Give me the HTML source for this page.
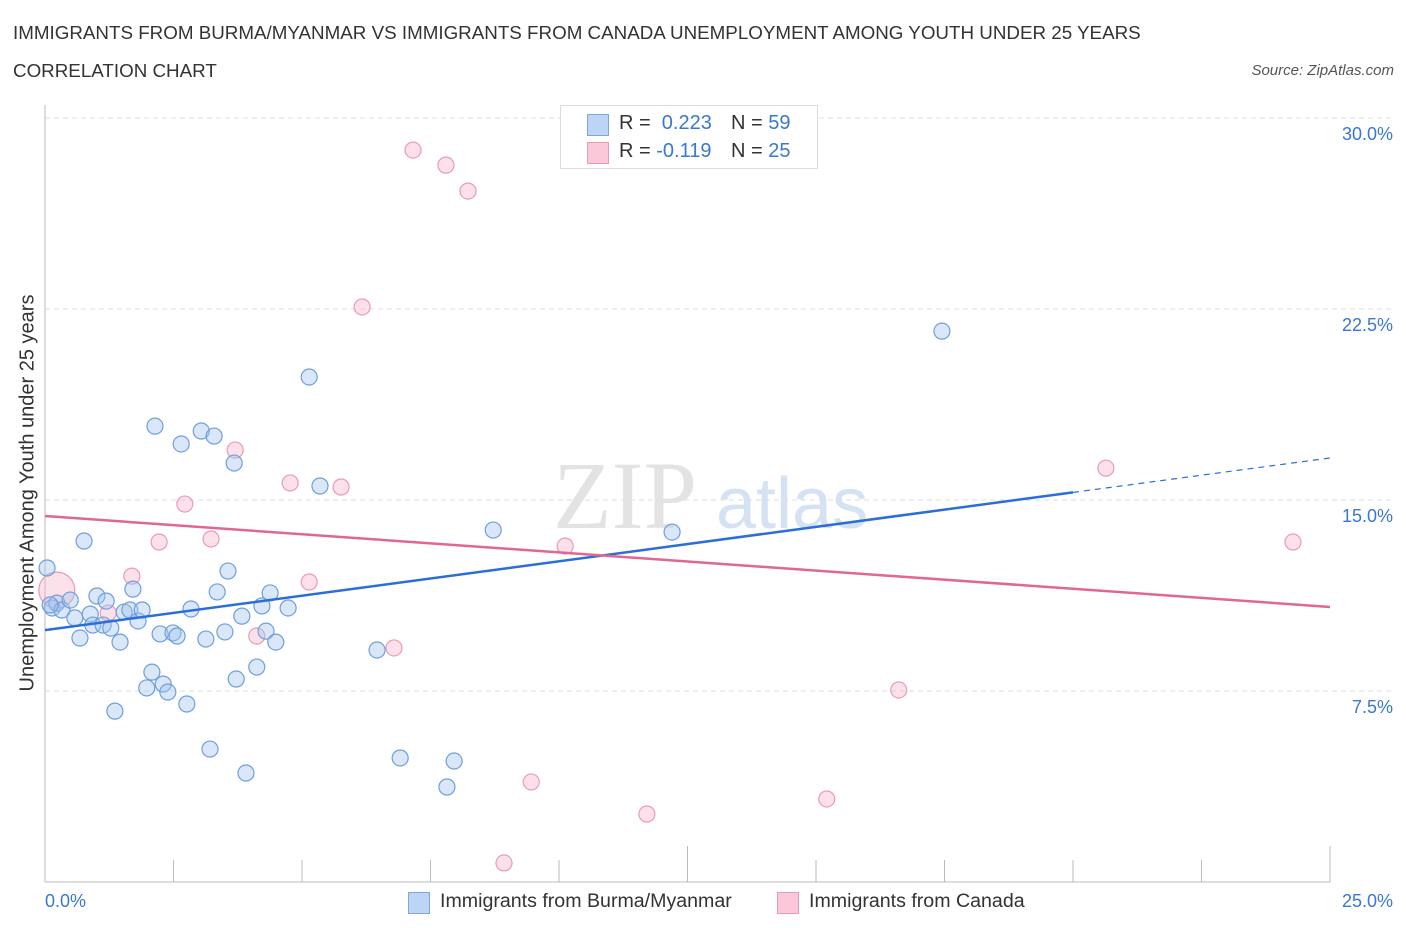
<!DOCTYPE html>
<html><head><meta charset="utf-8">
<style>
body{margin:0;background:#fff;font-family:"Liberation Sans",sans-serif;}
#wrap{position:relative;width:1406px;height:930px;overflow:hidden;}
.t{position:absolute;white-space:nowrap;}
</style></head>
<body>
<div id="wrap">
<div class="t" style="left:13px;top:22px;font-size:18.8px;color:#333;">IMMIGRANTS FROM BURMA/MYANMAR VS IMMIGRANTS FROM CANADA UNEMPLOYMENT AMONG YOUTH UNDER 25 YEARS</div>
<div class="t" style="left:13px;top:60px;font-size:18.8px;color:#333;">CORRELATION CHART</div>
<div class="t" style="right:12px;top:62px;font-size:15px;color:#555;font-style:italic;">Source: ZipAtlas.com</div>
<svg id="chart" width="1406" height="930" style="position:absolute;left:0;top:0"></svg>
</div>
<script>
const blueX=[0.04,0.14,0.23,0.33,0.49,0.58,0.68,0.76,0.88,0.93,1.01,1.13,1.19,1.28,1.36,1.46,1.54,1.65,1.71,1.81,1.89,2.08,1.98,2.14,2.24,2.30,2.39,2.49,2.57,2.65,2.76,2.84,3.04,3.13,3.21,3.29,3.35,3.50,3.56,3.68,3.72,3.83,3.91,4.12,4.22,4.30,4.38,4.49,4.73,5.14,5.35,6.46,6.91,7.82,7.96,8.72,12.20,17.45,0.10];
const blueY=[12.33,10.76,10.95,10.68,11.07,10.37,9.58,13.39,10.52,10.09,11.23,10.09,11.03,9.97,6.71,9.42,10.60,10.68,11.50,10.25,10.68,8.24,7.62,17.90,9.74,7.77,7.46,9.78,9.66,17.20,6.99,10.72,17.71,9.54,5.22,17.51,11.39,9.82,12.21,16.45,7.97,10.44,4.28,8.44,10.84,9.85,11.35,9.42,10.76,19.83,15.55,9.11,4.87,3.73,4.75,13.82,13.74,21.63,10.88];
const pinkX=[0.23,1.23,1.69,2.22,2.72,3.23,3.70,4.12,4.77,5.14,5.76,6.17,6.79,7.16,7.80,8.23,8.93,9.46,10.12,11.71,15.21,16.61,20.64,24.28];
const pinkY=[11.46,10.56,12.01,13.35,14.84,13.47,16.96,9.66,15.67,11.78,15.51,22.58,9.19,28.74,28.15,27.13,0.75,3.93,13.19,2.67,3.26,7.54,16.25,13.35];
const blueTrend=[9.89,16.65];
const pinkTrend=[14.37,10.80];
const yTicks=[7.5,15,22.5,30];
const yTickLabels=["7.5%","15.0%","22.5%","30.0%"];
const xTicks=[0,2.5,5,7.5,10,12.5,15,17.5,20,22.5,25];

const NS="http://www.w3.org/2000/svg";
const svg=document.getElementById('chart');
const X0=45,X1=1330,Y0=882,Y1=118;
const xs=v=>X0+(X1-X0)*v/25;
const ys=v=>Y0-(Y0-Y1)*v/30;
function mk(tag,attrs,parent){const e=document.createElementNS(NS,tag);for(const k in attrs)e.setAttribute(k,attrs[k]);(parent||svg).appendChild(e);return e;}

yTicks.forEach((t,i)=>{
  const g=mk('line',{x1:X0,x2:1395,y1:ys(t),y2:ys(t),stroke:'#ddd','stroke-dasharray':'5,4'});
  
  
  const tx=mk('text',{x:1393,y:ys(t)+22,'text-anchor':'end','font-size':'18',fill:'#3a78d0','font-family':'Liberation Sans'});
  tx.textContent=yTickLabels[i];
  
  
});
const ya=mk('line',{x1:X0,x2:X0,y1:105,y2:Y0,stroke:'#bbb'});


const xa=mk('line',{x1:X0,x2:X1,y1:Y0,y2:Y0,stroke:'#bbb'});


xTicks.forEach((t,i)=>{
  const long=(i===5||i===10);
  const tk=mk('line',{x1:xs(t),x2:xs(t),y1:long?846:860,y2:Y0,stroke:'#bbb'});
  
  
});
const wm=mk('text',{x:553,y:528,'font-size':'96','font-family':'Liberation Serif',fill:'#e3e3e3'});
wm.textContent='ZIP';


const wm2=mk('text',{x:716,y:528,'font-size':'72','font-family':'Liberation Sans',fill:'#d4e2f4'});
wm2.textContent='atlas';



pinkX.forEach((x,i)=>{
  const c=mk('circle',{cx:xs(x),cy:ys(pinkY[i]),r:i===0?18:8,fill:'rgba(246,170,195,0.35)',stroke:'#eb9ab5','stroke-width':'1.2'});
  
  
});
blueX.forEach((x,i)=>{
  const c=mk('circle',{cx:xs(x),cy:ys(blueY[i]),r:8,fill:'rgba(160,195,240,0.4)',stroke:'#6f9fdc','stroke-width':'1.2'});
  
  
});
const bEnd=20;
const by=x=>blueTrend[0]+(blueTrend[1]-blueTrend[0])*x/25;
const bl=mk('line',{x1:xs(0),y1:ys(by(0)),x2:xs(bEnd),y2:ys(by(bEnd)),stroke:'#2a6fd6','stroke-width':'2.5'});


const bd=mk('line',{x1:xs(bEnd),y1:ys(by(bEnd)),x2:xs(25),y2:ys(by(25)),stroke:'#2a6fd6','stroke-width':'1.2','stroke-dasharray':'6,5'});


const pl=mk('line',{x1:xs(0),y1:ys(pinkTrend[0]),x2:xs(25),y2:ys(pinkTrend[1]),stroke:'#e2668f','stroke-width':'2.5'});


</script>

<div class="t" style="left:28px;top:493px;font-size:20px;color:#333;transform:translate(-50%,-50%) rotate(-90deg);">Unemployment Among Youth under 25 years</div>
<div class="t" style="left:45px;top:891px;font-size:18px;color:#3a78d0;">0.0%</div>
<div class="t" style="right:13px;top:891px;font-size:18px;color:#3a78d0;">25.0%</div>

<div style="position:absolute;left:560px;top:105px;width:256px;height:62px;border:1px solid #ddd;background:#fff;font-size:20px;color:#333;">
 <div style="position:absolute;left:26px;top:8px;width:20px;height:20px;background:#bcd4f5;border:1px solid #7ea6de;"></div>
 <div class="t" style="left:58px;top:6px;">R = <span style="color:#3a78d0">&nbsp;0.223</span></div>
 <div class="t" style="left:170px;top:6px;">N = <span style="color:#3a78d0">59</span></div>
 <div style="position:absolute;left:26px;top:36px;width:20px;height:20px;background:#fac8d8;border:1px solid #eb9ab5;"></div>
 <div class="t" style="left:58px;top:34px;">R = <span style="color:#3a78d0">-0.119</span></div>
 <div class="t" style="left:170px;top:34px;">N = <span style="color:#3a78d0">25</span></div>
</div>

<div style="position:absolute;left:408px;top:890px;font-size:19.6px;color:#333;">
 <div style="position:absolute;left:0;top:2px;width:20px;height:20px;background:#bcd4f5;border:1px solid #7ea6de;"></div>
 <div class="t" style="left:32px;top:0;">Immigrants from Burma/Myanmar</div>
</div>
<div style="position:absolute;left:777px;top:890px;font-size:19.6px;color:#333;">
 <div style="position:absolute;left:0;top:2px;width:20px;height:20px;background:#fac8d8;border:1px solid #eb9ab5;"></div>
 <div class="t" style="left:32px;top:0;">Immigrants from Canada</div>
</div>
</body></html>
